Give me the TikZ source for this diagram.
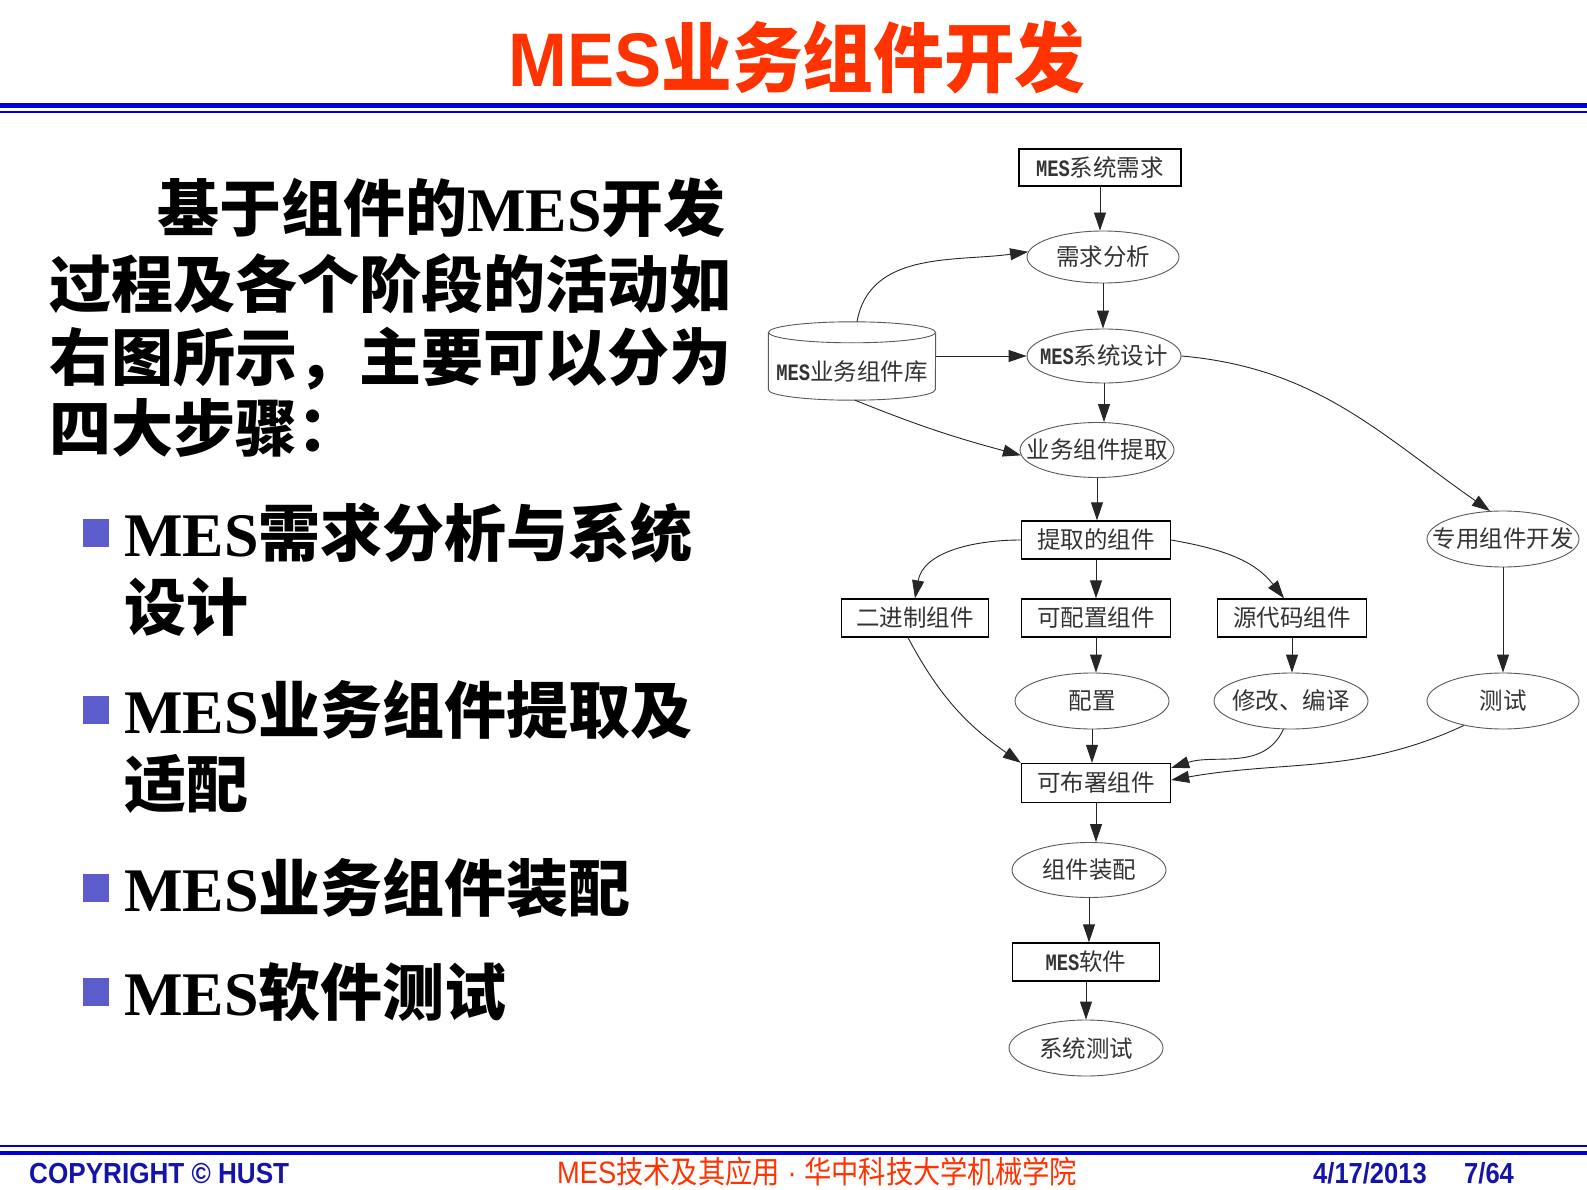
\documentclass[tikz,border=0pt]{standalone}
\usepackage{fontspec}
\setmainfont{Liberation Serif}
\newfontfamily\cjk{Noto Sans CJK SC}
\newfontfamily\sansf{Liberation Sans}
\newfontfamily\monof{Liberation Mono}
\usetikzlibrary{arrows.meta,calc,shapes.geometric}
\definecolor{titlered}{RGB}{255,51,0}
\definecolor{lineblue}{RGB}{0,0,215}
\definecolor{footblue}{RGB}{20,20,170}
\definecolor{bulletblue}{RGB}{92,92,204}
\newcommand\mesm{{\monof\bfseries\scalebox{0.8}[1]{MES}}}
\newcommand\ot[1]{\makebox[0pt]{#1}}
\tikzset{
  dtext/.style={font=\fontsize{23.5}{25}\selectfont\cjk, text=black!80, inner sep=0pt},
  box/.style={dtext, draw=black, line width=1.3pt, rectangle, minimum width=149pt, minimum height=38pt},
  oval/.style={dtext, draw=black!65, line width=0.9pt, ellipse, minimum width=154pt, minimum height=55pt},
  arr/.style={draw=black!85, line width=0.9pt, -{Triangle[length=18pt,width=12pt]}},
  lefttext/.style={anchor=base west, inner sep=0pt, font=\fontsize{62}{62}\selectfont\bfseries},
  bsq/.style={fill=bulletblue, draw=none, minimum width=26pt, minimum height=28pt, inner sep=0pt},
  foot/.style={anchor=base west, inner sep=0pt},
}
\begin{document}
\begin{tikzpicture}[x=1pt,y=1pt]
\useasboundingbox (0,0) rectangle (1587,-1190);
\fill[white] (0,0) rectangle (1587,-1190);

% title
\node[anchor=base, inner sep=0pt, text=titlered, font=\fontsize{76}{76}\selectfont\bfseries] (title) at (797,-87) {\scalebox{0.93}[1]{{\sansf MES}{\cjk 业务组件开发}}};
\fill[lineblue] (0,-103) rectangle (1587,-108.5);
\fill[lineblue] (0,-111) rectangle (1587,-112.7);

% left text
\node[lefttext] (l1) at (157,-232) {{\cjk 基于组件的}MES{\cjk 开发}};
\node[lefttext] (l2) at (49,-307) {{\cjk 过程及各个阶段的活动如}};
\node[lefttext] (l3) at (49,-380) {{\cjk 右图所示，主要可以分为}};
\node[lefttext] (l4) at (49,-451) {{\cjk 四大步骤：}};

\node[bsq] (s1) at (96,-533) {};
\node[bsq] (s2) at (96,-710) {};
\node[bsq] (s3) at (96,-888) {};
\node[bsq] (s4) at (96,-992) {};
\node[lefttext] (b1a) at (124,-556) {MES{\cjk 需求分析与系统}};
\node[lefttext] (b1b) at (124,-630) {{\cjk 设计}};
\node[lefttext] (b2a) at (124,-733) {MES{\cjk 业务组件提取及}};
\node[lefttext] (b2b) at (124,-807) {{\cjk 适配}};
\node[lefttext] (b3) at (124,-911) {MES{\cjk 业务组件装配}};
\node[lefttext] (b4) at (124,-1015) {MES{\cjk 软件测试}};

% diagram nodes
\node[box, minimum width=162pt, minimum height=37pt] (req) at (1100,-167.5) {\mesm 系统需求};
\node[oval, minimum width=152pt, minimum height=52pt] (ana) at (1103,-257) {\ot{需求分析}};
\node[oval, minimum height=54pt] (des) at (1104,-356) {\ot{\mesm 系统设计}};
\node[dtext, minimum width=167pt, minimum height=57pt] (lib) at (852,-371.5) {\mesm 业务组件库};
\draw[black!65, line width=0.9pt] ([yshift=10.5pt]lib.north west) -- ([yshift=10.5pt]lib.south west) arc[start angle=180, end angle=360, x radius=83.5pt, y radius=10.5pt] -- ([yshift=10.5pt]lib.north east);
\draw[black!65, line width=0.9pt] ([yshift=10.5pt]lib.north) ellipse[x radius=83.5pt, y radius=10.5pt];
\node[oval] (ext) at (1097,-450) {\ot{业务组件提取}};
\node[box] (extc) at (1096,-540) {提取的组件};
\node[oval, minimum width=152pt, minimum height=56pt] (spec) at (1503,-539) {\ot{专用组件开发}};
\node[box, minimum width=147pt] (bin) at (915,-618) {二进制组件};
\node[box] (conf) at (1096,-618) {可配置组件};
\node[box] (src) at (1292,-618) {源代码组件};
\node[oval, minimum height=56pt] (cfg) at (1092,-701) {\ot{配置}};
\node[oval, minimum height=56pt] (mod) at (1291,-701) {\ot{修改、编译}};
\node[oval, minimum width=152pt, minimum height=56pt] (test) at (1503,-701) {\ot{测试}};
\node[box, minimum height=39pt] (dep) at (1096,-783) {可布署组件};
\node[oval] (asm) at (1089,-870) {\ot{组件装配}};
\node[box, minimum width=147pt] (sw) at (1086,-962) {\mesm 软件};
\node[oval, minimum height=56pt] (st) at (1086,-1048) {\ot{系统测试}};

% straight arrows
\draw[arr] (req.south) -- (req.south |- ana.north);
\draw[arr] (ana.south) -- (ana.south |- des.north);
\draw[arr] (des.south) -- (des.south |- ext.north);
\draw[arr] (ext.south) -- (ext.south |- extc.north);
\draw[arr] (extc.south) -- (extc.south |- conf.north);
\draw[arr] (conf.south) -- (conf.south |- cfg.north);
\draw[arr] (cfg.south) -- (cfg.south |- dep.north);
\draw[arr] (src.south) -- (src.south |- mod.north);
\draw[arr] (spec.south) -- (spec.south |- test.north);
\draw[arr] (dep.south) -- (dep.south |- asm.north);
\draw[arr] (asm.south) -- (asm.south |- sw.north);
\draw[arr] (sw.south) -- (sw.south |- st.north);
% curved arrows
\draw[arr] ([xshift=5pt,yshift=21pt]lib.north) to[out=80,in=188] (ana.176);
\draw[arr] (lib.east |- des.west) -- (des.west);
\draw[arr] ([xshift=3pt]lib.south) to[out=-22,in=165] (ext.184);
\draw[arr] (des.east) to[out=-5,in=145] (spec.115);
\draw[arr] (extc.west) to[out=180,in=80] (bin.north);
\draw[arr] (extc.east) to[out=-10,in=128] ([xshift=-8pt]src.north);
\draw[arr] ([xshift=-7pt]bin.south) to[out=-62,in=145] (dep.north west);
\draw[arr] (mod.255) to[out=-115,in=18] ([yshift=-5pt]dep.north east);
\draw[arr] (test.212) to[out=205,in=10] ([yshift=3pt]dep.east);

% footer
\fill[lineblue] (0,-1145) rectangle (1587,-1147);
\fill[lineblue] (0,-1151) rectangle (1587,-1155);
\node[foot, text=footblue, font=\fontsize{29}{29}\selectfont\sansf\bfseries] (copy) at (29,-1183) {\scalebox{0.9}[1]{COPYRIGHT © HUST}};
\node[foot, text=titlered, font=\fontsize{31}{31}\selectfont] (course) at (557,-1183) {\scalebox{0.88}[1]{{\sansf MES}{\cjk 技术及其应用}{\sansf\ ·\ }{\cjk 华中科技大学机械学院}}};
\node[foot, text=footblue, font=\fontsize{29}{29}\selectfont\sansf\bfseries] (date) at (1313,-1183) {\scalebox{0.88}[1]{4/17/2013}};
\node[foot, text=footblue, font=\fontsize{29}{29}\selectfont\sansf\bfseries] (page) at (1464,-1183) {\scalebox{0.88}[1]{7/64}};
\end{tikzpicture}
\end{document}
